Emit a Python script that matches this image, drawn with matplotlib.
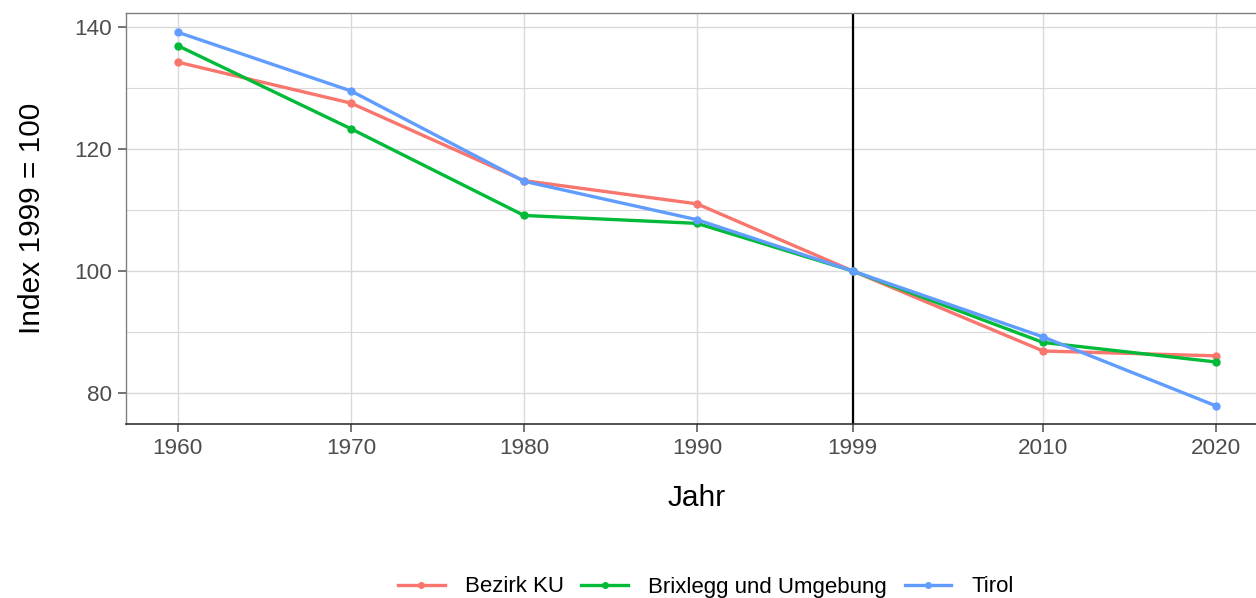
import matplotlib
matplotlib.use("Agg")
import matplotlib.pyplot as plt

# Data
jahre = [1960, 1970, 1980, 1990, 1999, 2010, 2020]
bezirk_ku = [134.2, 127.5, 114.8, 111.0, 100.0, 86.9, 86.1]
brixlegg = [136.9, 123.3, 109.1, 107.8, 100.0, 88.3, 85.1]
tirol = [139.1, 129.5, 114.7, 108.4, 100.0, 89.2, 77.9]

series = [
    ("Bezirk KU", bezirk_ku, "#F8766D"),
    ("Brixlegg und Umgebung", brixlegg, "#00BA38"),
    ("Tirol", tirol, "#619CFF"),
]

plt.rcParams["font.family"] = ["Liberation Sans", "DejaVu Sans"]

fig = plt.figure(figsize=(12.56, 5.98), dpi=100)
ax = fig.add_axes([126 / 1256, 1 - 424 / 598, (1268 - 126) / 1256, (424 - 13) / 598])

# grid
for y in [80, 90, 100, 110, 120, 130, 140]:
    ax.axhline(y, color="#d9d9d9", lw=0.8 if y % 20 else 1.0, zorder=0)
for x in jahre:
    ax.axvline(x, color="#d9d9d9", lw=1.0, zorder=0)

ax.axvline(1999, color="black", lw=1.6, zorder=1)

for name, vals, col in series:
    ax.plot(jahre, vals, color=col, lw=2.4, marker="o", ms=5, label=name, zorder=3)

ax.set_xlim(1957, 2023)
ax.set_ylim(74.94, 142.26)
ax.set_xticks(jahre)
ax.set_yticks([80, 100, 120, 140])
ax.tick_params(axis="both", colors="#4d4d4d", labelsize=16.2, length=6, width=1.1, pad=4)

for side in ["top", "left", "right"]:
    ax.spines[side].set_color("#808080")
    ax.spines[side].set_linewidth(1.0)
ax.spines["bottom"].set_color("#333333")
ax.spines["bottom"].set_linewidth(1.2)

ax.set_xlabel("Jahr", fontsize=21.5, labelpad=18)
ax.set_ylabel("Index 1999 = 100", fontsize=21.5, labelpad=20)

leg = fig.legend(loc="center", bbox_to_anchor=(0.562, 1 - 587 / 598), ncol=3,
                 frameon=False, fontsize=16, handlelength=2.1, columnspacing=0.8,
                 handletextpad=0.9, markerscale=0.8)

fig.savefig("out.png", dpi=100)
